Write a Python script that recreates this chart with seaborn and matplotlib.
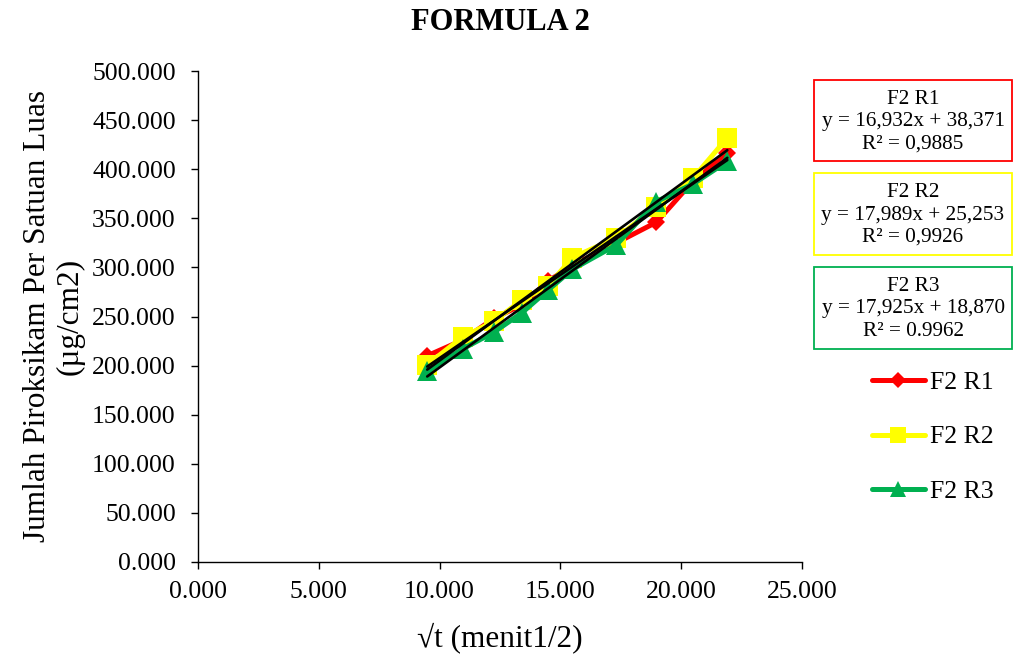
import numpy as np
import pandas as pd
import matplotlib
matplotlib.use("Agg")
import matplotlib.pyplot as plt
import seaborn as sns
from matplotlib.patches import Rectangle

# ---------------- data ----------------
sqrt_t = [9.487, 10.954, 12.247, 13.416, 14.491, 15.492, 17.321, 18.974, 20.494, 21.909]
f2_r1 = [210, 226, 248, 262, 286, 302, 325, 346, 388, 417]
f2_r2 = [201, 229, 245, 267, 281, 310, 330, 362, 391, 432]
f2_r3 = [194, 217, 234, 254, 277, 298, 323, 367, 385, 408]
series_names = ["F2 R1", "F2 R2", "F2 R3"]
series_colors = ["#FF0000", "#FFFF00", "#00B050"]
series_markers = ["D", "s", "^"]
marker_sizes = [9, 14, 14]
slopes = [16.932, 17.989, 17.925]
intercepts = [38.371, 25.253, 18.870]
eq_labels = ["y = 16,932x + 38,371", "y = 17,989x + 25,253", "y = 17,925x + 18,870"]
r2_labels = ["R² = 0,9885", "R² = 0,9926", "R² = 0.9962"]
x_ticks = [0, 5, 10, 15, 20, 25]
y_ticks = [0, 50, 100, 150, 200, 250, 300, 350, 400, 450, 500]

title = "FORMULA 2"
x_label = "√t (menit1/2)"
y_label = "Jumlah Piroksikam Per Satuan Luas\n(µg/cm2)"

# ---------------- style ----------------
sns.set_theme(style="white")
plt.rcParams["font.family"] = ["Liberation Serif", "DejaVu Serif"]

W, H = 1013, 654
fig = plt.figure(figsize=(W / 100, H / 100), dpi=100)
ax = fig.add_axes([198 / W, (H - 562) / H, 604 / W, 491 / H])

df = pd.DataFrame({
    "x": sqrt_t * 3,
    "y": f2_r1 + f2_r2 + f2_r3,
    "series": [s for s in series_names for _ in sqrt_t],
})

for name, col, mk, ms in zip(series_names, series_colors, series_markers, marker_sizes):
    sub = df[df["series"] == name]
    sns.lineplot(data=sub, x="x", y="y", ax=ax, color=col, marker=mk,
                 markersize=ms, markeredgewidth=0, linewidth=3.6, label=name,
                 sort=False)

handles, labels = ax.get_legend_handles_labels()

# linear trend lines (black)
for a, b in zip(slopes, intercepts):
    xs = np.array([sqrt_t[0], sqrt_t[-1]])
    ax.plot(xs, a * xs + b, color="black", linewidth=1.9, zorder=5)

ax.set_xlim(0, 25)
ax.set_ylim(0, 500)
ax.set_xticks(x_ticks)
ax.set_yticks(y_ticks)
ax.set_xticklabels([f"{v:.3f}" for v in x_ticks])
ax.set_yticklabels([f"{v:.3f}" for v in y_ticks])

for s in ["top", "right"]:
    ax.spines[s].set_visible(False)
for s in ["left", "bottom"]:
    ax.spines[s].set_color("black")
    ax.spines[s].set_linewidth(1.0)

ax.tick_params(axis="both", which="major", direction="out", length=5, width=1,
               colors="black", labelsize=18.5, bottom=True, left=True)
ax.tick_params(axis="y", pad=11)
ax.tick_params(axis="x", pad=9)

ax.set_xlabel(x_label, fontsize=22.5, color="black", va="center")
ax.xaxis.set_label_coords(0.5, (562 - 638) / 491)
ax.set_ylabel(y_label, fontsize=22.5, color="black", va="center", ha="center",
              linespacing=1.17)
ax.yaxis.set_label_coords((54 - 198) / 604, 0.5)

ax.set_title(title, fontsize=22, fontweight="bold", color="black",
             y=(562 - 23) / 491, va="center", pad=0)

# legend
leg = ax.legend(handles, labels, loc="center left",
                bbox_to_anchor=(872 / W, 1 - 437 / H),
                bbox_transform=fig.transFigure, frameon=False,
                fontsize=18.5, handlelength=2.06, handletextpad=0.2,
                labelspacing=1.24, borderpad=0, borderaxespad=0,
                markerscale=0.85)
for t in leg.get_texts():
    t.set_color("black")

# trendline equation boxes
boxes = [(80, 161), (173, 255), (267, 349)]
for (top, bot), col, name, eq, r2 in zip(boxes, series_colors, series_names,
                                         eq_labels, r2_labels):
    rect = Rectangle((814 / W, 1 - bot / H), (1011.5 - 814) / W, (bot - top) / H,
                     transform=fig.transFigure, fill=False, edgecolor=col,
                     linewidth=1.3)
    fig.add_artist(rect)
    fig.text(913 / W, 1 - ((top + bot) / 2 + 1) / H, f"{name}\n{eq}\n{r2}",
             ha="center", va="center", fontsize=15.3, color="black",
             linespacing=1.25)

fig.savefig("out.png", dpi=100)
